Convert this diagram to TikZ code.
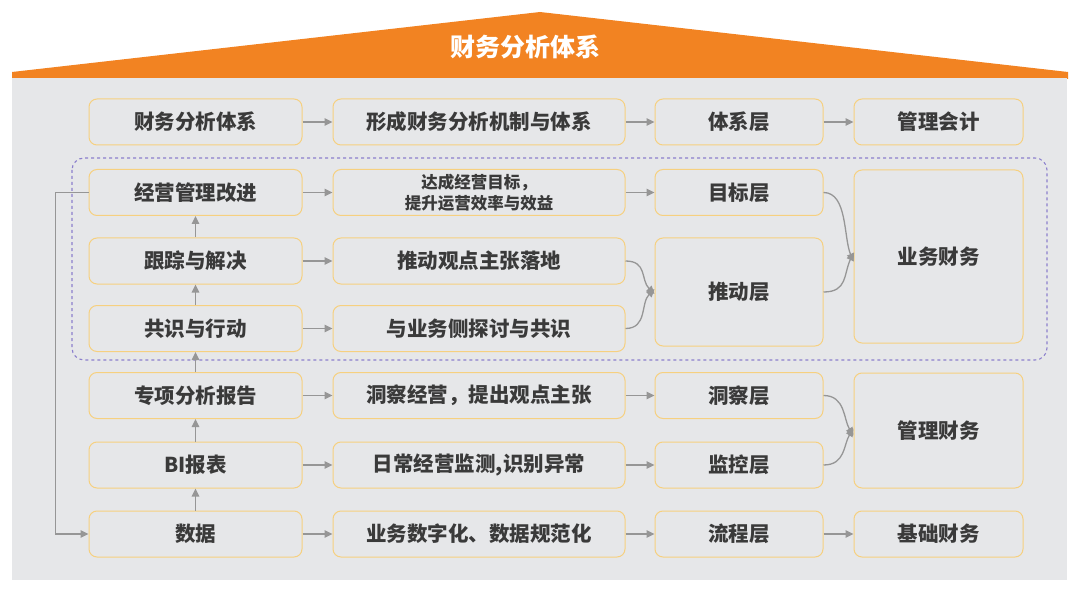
\documentclass[tikz,border=0pt]{standalone}
\usepackage{fontspec}
\setmainfont{Noto Sans CJK SC}
\usetikzlibrary{arrows.meta}
\definecolor{roof}{RGB}{242,131,34}
\definecolor{bg}{RGB}{230,231,233}
\definecolor{edge}{RGB}{246,208,128}
\definecolor{link}{RGB}{150,150,150}
\definecolor{txt}{RGB}{58,58,58}
\definecolor{frame}{RGB}{140,128,205}
\begin{document}
\begin{tikzpicture}
        [
           x=1pt, y=-1pt,
           every node/.style={rectangle,rounded corners=8pt,draw=edge,line width=1pt,fill=bg,text=txt,
             font=\fontsize{20.5}{24}\selectfont\bfseries,inner sep=0pt,align=center},
           arr/.style={draw=link,line width=1.3pt,-{Triangle[length=8pt,width=7.5pt]}}
        ]
        \tikzstyle{c1}=[minimum width=213pt,minimum height=46pt]
        \tikzstyle{c2}=[minimum width=292pt,minimum height=46pt]
        \tikzstyle{c3}=[minimum width=168pt,minimum height=46pt]
        \tikzstyle{c4}=[minimum width=169pt,minimum height=46pt]
        \useasboundingbox (0,0) rectangle (1080,591);
        \fill[roof] (12,79) -- (12,72) -- (540,12) -- (1068,72) -- (1068,79) -- cycle;
        \fill[bg] (12,78) rectangle (1067,580);
        \node[draw=none,fill=none,text=white,font=\fontsize{25}{28}\selectfont\bfseries] (title) at (525,47) {财务分析体系};
        \draw[frame,dashed,line width=1.1pt,rounded corners=12pt] (72,158) rectangle (1047,360);

        \node[c1] (sys) at (195.5,122) {财务分析体系};
        \node[c2] (mech) at (479,122) {形成财务分析机制与体系};
        \node[c3] (syslayer) at (739,122) {体系层};
        \node[c4] (macc) at (938.5,122) {管理会计};

        \node[c1] (improve) at (195.5,192.5) {经营管理改进};
        \node[c2,font=\fontsize{16.5}{21}\selectfont\bfseries] (goal) at (479,192.5) {达成经营目标，\\提升运营效率与效益};
        \node[c3] (goallayer) at (739,192.5) {目标层};
        \node[c4,minimum height=173pt] (bizfin) at (938.5,256.5) {业务财务};

        \node[c1] (track) at (195.5,261) {跟踪与解决};
        \node[c2] (push) at (479,261) {推动观点主张落地};
        \node[c3,minimum height=108pt] (pushlayer) at (739,292) {推动层};

        \node[c1] (consensus) at (195.5,328.5) {共识与行动};
        \node[c2] (discuss) at (479,328.5) {与业务侧探讨与共识};

        \node[c1] (report) at (195.5,395.5) {专项分析报告};
        \node[c2] (insight) at (479,395.5) {洞察经营，提出观点主张};
        \node[c3] (insightlayer) at (739,395.5) {洞察层};
        \node[c4,minimum height=115pt] (mgmtfin) at (938.5,430.5) {管理财务};

        \node[c1] (bi) at (195.5,465) {BI报表};
        \node[c2] (monitor) at (479,465) {日常经营监测,识别异常};
        \node[c3] (monitorlayer) at (739,465) {监控层};

        \node[c1] (data) at (195.5,534) {数据};
        \node[c2] (digital) at (479,534) {业务数字化、数据规范化};
        \node[c3] (flowlayer) at (739,534) {流程层};
        \node[c4] (basefin) at (938.5,534) {基础财务};

        \draw[arr] (sys) -- (mech);
        \draw[arr] (mech) -- (syslayer);
        \draw[arr] (syslayer) -- (macc);
        \draw[arr] (improve) -- (goal);
        \draw[arr] (goal) -- (goallayer);
        \draw[arr] (track) -- (push);
        \draw[arr] (consensus) -- (discuss);
        \draw[arr] (report) -- (insight);
        \draw[arr] (insight) -- (insightlayer);
        \draw[arr] (bi) -- (monitor);
        \draw[arr] (monitor) -- (monitorlayer);
        \draw[arr] (data) -- (digital);
        \draw[arr] (digital) -- (flowlayer);
        \draw[arr] (flowlayer) -- (basefin);

        \draw[arr] (data) -- (bi);
        \draw[arr] (bi) -- (report);
        \draw[arr] (report) -- (consensus);
        \draw[arr] (consensus) -- (track);
        \draw[arr] (track) -- (improve);
        \draw[arr] (improve.west) -- ++(-33,0) |- (data.west);

        \draw[arr] (push.east) .. controls +(22,0) and +(-14,-14) .. ([yshift=-2pt]pushlayer.west);
        \draw[arr] (discuss.east) .. controls +(22,0) and +(-14,14) .. ([yshift=3pt]pushlayer.west);
        \draw[arr] (goallayer.east) .. controls +(24,0) and +(-10,-24) .. ([yshift=-5pt]bizfin.west);
        \draw[arr] (pushlayer.east) .. controls +(24,0) and +(-10,22) .. ([yshift=4pt]bizfin.west);
        \draw[arr] (insightlayer.east) .. controls +(22,0) and +(-10,-16) .. ([yshift=-5pt]mgmtfin.west);
        \draw[arr] (monitorlayer.east) .. controls +(22,0) and +(-10,16) .. ([yshift=2pt]mgmtfin.west);
    \end{tikzpicture}
\end{document}
